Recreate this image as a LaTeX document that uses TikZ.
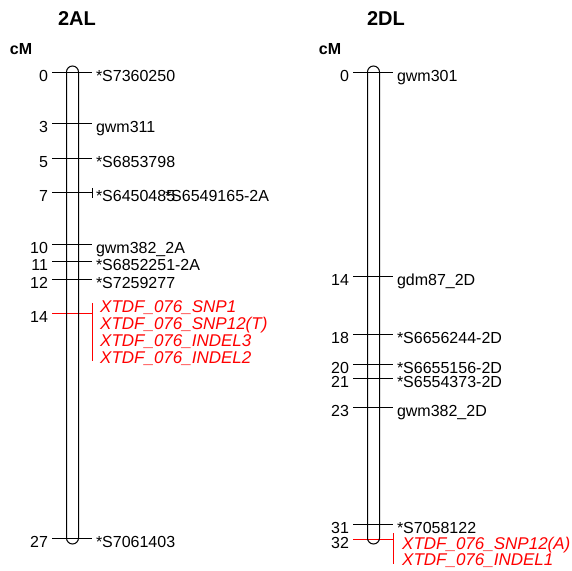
\documentclass[tikz,border=0pt]{standalone}
\usepackage{fontspec}
\setmainfont{Liberation Sans}
\usetikzlibrary{positioning}
\definecolor{qtlred}{RGB}{255,0,0}
\tikzset{
  tick/.style={line width=1pt},
  tube/.style={line width=1pt, rounded corners=6pt},
  cmpos/.style={anchor=east, inner sep=0pt, outer xsep=4pt, text height=18pt, text depth=0pt, font=\fontsize{16}{19}\selectfont},
  mrk/.style={anchor=west, inner sep=0pt, outer xsep=4pt, text height=18pt, text depth=0pt, font=\fontsize{16}{19}\selectfont},
  qtl/.style={anchor=west, inner sep=0pt, text height=12.2pt, text depth=0pt, text=qtlred, font=\fontsize{17}{20}\selectfont\itshape},
  chrtitle/.style={inner sep=0pt, text height=14.3pt, text depth=0pt, font=\fontsize{20}{24}\selectfont\bfseries},
  unit/.style={inner sep=0pt, text height=11.5pt, text depth=0pt, font=\fontsize{16}{19}\selectfont\bfseries}
}

\begin{document}
\begin{tikzpicture}[x=1pt, y=-1pt]
  \useasboundingbox (0,0) rectangle (572,570);

  % 2AL
  \node[chrtitle] (t2al) at (77,18.5) {2AL};
  \node[unit] (cm2al) at (21,49) {cM};

  \node[cmpos] (a0) at (52,72) {0};
  \node[mrk] (am0) at (92,72) {*S7360250};
  \node[cmpos] (a3) at (52,123.8) {3};
  \node[mrk] (am3) at (92,123.8) {gwm311};
  \node[cmpos] (a5) at (52,158.3) {5};
  \node[mrk] (am5) at (92,158.3) {*S6853798};
  \node[cmpos] (a7) at (52,192.8) {7};
  \node[mrk] (am7) at (92,192.8) {*S6450485};
  \node[mrk, outer xsep=0pt] (am7b) at (165,192.8) {*S6549165-2A};
  \node[cmpos] (a10) at (52,244.6) {10};
  \node[mrk] (am10) at (92,244.6) {gwm382\_2A};
  \node[cmpos] (a11) at (52,261.9) {11};
  \node[mrk] (am11) at (92,261.9) {*S6852251-2A};
  \node[cmpos] (a12) at (52,279.1) {12};
  \node[mrk] (am12) at (92,279.1) {*S7259277};
  \node[cmpos] (a14) at (52,313.6) {14};
  \coordinate (aq14) at (92,313.6);
  \coordinate (aq14t) at (92,303);
  \coordinate (aq14b) at (92,361);
  \node[qtl] (ar1) at (100,306.7) {XTDF\_076\_SNP1};
  \node[qtl] (ar2) at (100,323.5) {XTDF\_076\_SNP12(T)};
  \node[qtl] (ar3) at (100,340.2) {XTDF\_076\_INDEL3};
  \node[qtl] (ar4) at (100,356.9) {XTDF\_076\_INDEL2};
  \node[cmpos] (a27) at (52,538) {27};
  \node[mrk] (am27) at (92,538) {*S7061403};

  \draw[tick] (a0.east) -- (am0.west);
  \draw[tick] (a3.east) -- (am3.west);
  \draw[tick] (a5.east) -- (am5.west);
  \draw[tick] (a7.east) -- (am7.west);
  \draw[tick] ([yshift=5pt]am7.west) -- ([yshift=-5pt]am7.west);
  \draw[tick] (a10.east) -- (am10.west);
  \draw[tick] (a11.east) -- (am11.west);
  \draw[tick] (a12.east) -- (am12.west);
  \draw[tick, qtlred] (a14.east) -- (aq14);
  \draw[tick, qtlred] (aq14t) -- (aq14b);
  \draw[tick] (a27.east) -- (am27.west);
  \draw[tube] (66.5,66) rectangle (78.5,544);

  % 2DL
  \node[chrtitle] (t2dl) at (386,18.5) {2DL};
  \node[unit] (cm2dl) at (330,49) {cM};

  \node[cmpos] (d0) at (353,72) {0};
  \node[mrk] (dm0) at (393,72) {gwm301};
  \node[cmpos] (d14) at (353,276.4) {14};
  \node[mrk] (dm14) at (393,276.4) {gdm87\_2D};
  \node[cmpos] (d18) at (353,334.8) {18};
  \node[mrk] (dm18) at (393,334.8) {*S6656244-2D};
  \node[cmpos] (d20) at (353,364) {20};
  \node[mrk] (dm20) at (393,364) {*S6655156-2D};
  \node[cmpos] (d21) at (353,378.6) {21};
  \node[mrk] (dm21) at (393,378.6) {*S6554373-2D};
  \node[cmpos] (d23) at (353,407.8) {23};
  \node[mrk] (dm23) at (393,407.8) {gwm382\_2D};
  \node[cmpos] (d31) at (353,524.6) {31};
  \node[mrk] (dm31) at (393,524.6) {*S7058122};
  \node[cmpos] (d32) at (353,539.2) {32};
  \coordinate (dq32) at (393,539.2);
  \coordinate (dq32t) at (393,533);
  \coordinate (dq32b) at (393,564);
  \node[qtl] (dr1) at (402,543) {XTDF\_076\_SNP12(A)};
  \node[qtl] (dr2) at (402,559) {XTDF\_076\_INDEL1};

  \draw[tick] (d0.east) -- (dm0.west);
  \draw[tick] (d14.east) -- (dm14.west);
  \draw[tick] (d18.east) -- (dm18.west);
  \draw[tick] (d20.east) -- (dm20.west);
  \draw[tick] (d21.east) -- (dm21.west);
  \draw[tick] (d23.east) -- (dm23.west);
  \draw[tick] (d31.east) -- (dm31.west);
  \draw[tick, qtlred] (d32.east) -- (dq32);
  \draw[tick, qtlred] (dq32t) -- (dq32b);
  \draw[tube] (367.5,66) rectangle (379.5,544);
\end{tikzpicture}
\end{document}
